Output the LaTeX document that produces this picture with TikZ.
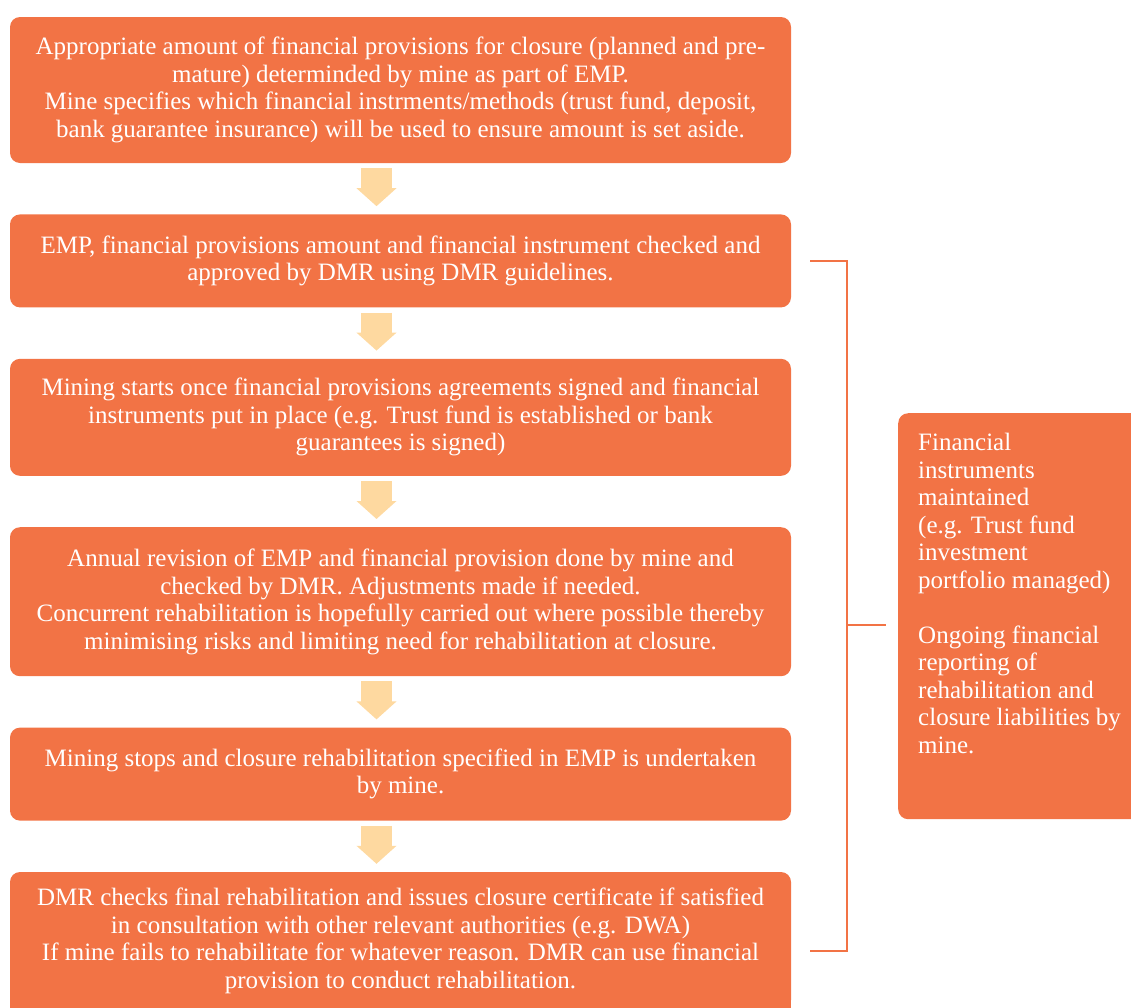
\documentclass[tikz,border=0pt]{standalone}
\usepackage{fontspec}
\setmainfont{Liberation Serif}
\usetikzlibrary{arrows.meta,positioning,calc}

\definecolor{minorange}{RGB}{242,115,69}
\definecolor{arrowpeach}{RGB}{254,217,160}

\tikzset{
  stepbox/.style={rectangle,fill=minorange,rounded corners=10pt,text=white,
    align=center,minimum width=781pt,inner sep=0pt,
    font=\fontsize{25}{27.5}\selectfont},
  sidebox/.style={rectangle,fill=minorange,rounded corners=10pt,
    minimum width=260pt,minimum height=406pt,inner sep=0pt},
  sidetext/.style={text=white,align=left,inner sep=0pt,
    font=\fontsize{25}{27.5}\selectfont},
  fatarrow/.style={draw=arrowpeach,line width=31pt,
    -{Triangle[width=39pt,length=18pt]},shorten <=5pt,shorten >=8pt},
  bracket/.style={draw=minorange,line width=2pt}
}

\begin{document}
\begin{tikzpicture}[x=1pt,y=-1pt]
  \useasboundingbox (0,0) rectangle (1131,1007);
  \clip (0,0) rectangle (1131,1007);

  % main steps
  \node[stepbox,minimum height=146pt] (b1) at (400.5,90) {Appropriate amount of financial provisions for closure (planned and pre-\\mature) determinded by mine as part of EMP.\\Mine specifies which financial instrments/methods (trust fund, deposit,\\bank guarantee insurance) will be used to ensure amount is set aside.};
  \node[stepbox,minimum height=93pt,below=51pt of b1] (b2) {EMP, financial provisions amount and financial instrument checked and\\approved by DMR using DMR guidelines.};
  \node[stepbox,minimum height=117pt,below=51pt of b2] (b3) {Mining starts once financial provisions agreements signed and financial\\instruments put in place (e.g. Trust fund is established or bank\\guarantees is signed)};
  \node[stepbox,minimum height=149pt,below=51pt of b3] (b4) {Annual revision of EMP and financial provision done by mine and\\checked by DMR. Adjustments made if needed.\\Concurrent rehabilitation is hopefully carried out where possible thereby\\minimising risks and limiting need for rehabilitation at closure.};
  \node[stepbox,minimum height=93pt,below=51pt of b4] (b5) {Mining stops and closure rehabilitation specified in EMP is undertaken\\by mine.};
  % last box runs off the bottom edge
  \fill[minorange] (b5.west |- 0,990) rectangle (b5.east |- 0,1020);
  \node[stepbox,minimum height=138pt,below=51pt of b5] (b6) {DMR checks final rehabilitation and issues closure certificate if satisfied\\in consultation with other relevant authorities (e.g. DWA)\\If mine fails to rehabilitate for whatever reason. DMR can use financial\\provision to conduct rehabilitation.};

  % side box
  \node[sidebox,anchor=north west] (side) at (898,413) {};
  \node[sidetext,anchor=north west] (sidetxt) at ([xshift=20pt,yshift=-20pt]side.north west) {Financial\\instruments\\maintained\\(e.g. Trust fund\\investment\\portfolio managed)\\[27.5pt]Ongoing financial\\reporting of\\rehabilitation and\\closure liabilities by\\mine.};

  % arrows between steps
  \foreach \a/\b in {b1/b2,b2/b3,b3/b4,b4/b5,b5/b6}
    \draw[fatarrow] ([xshift=-24pt]\a.south) -- ([xshift=-24pt]\b.north);

  % bracket
  \coordinate (brtop) at ([xshift=19pt]b2.east);
  \coordinate (brbot) at ([xshift=19pt,yshift=-10pt]b6.east);
  \coordinate (brmid) at (847,625);
  \draw[bracket] (brtop) -- ++(37,0) |- (brbot);
  \draw[bracket,shorten >=12pt] (brmid) -- (brmid -| side.west);
\end{tikzpicture}
\end{document}
